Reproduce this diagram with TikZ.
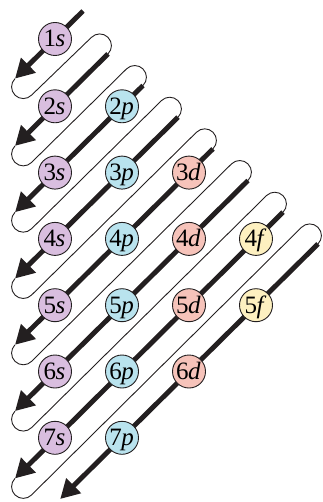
\documentclass[tikz,border=0pt]{standalone}
\usepackage{fontspec}
\setmainfont{Liberation Serif}
\usetikzlibrary{arrows.meta,calc}
\definecolor{scol}{HTML}{D9BEDF}
\definecolor{pcol}{HTML}{B9E3EE}
\definecolor{dcol}{HTML}{F6C3BA}
\definecolor{fcol}{HTML}{FDF0C0}
\definecolor{ink}{HTML}{231F20}
\newcommand{\orbtxt}[2]{\raisebox{-8pt}[0pt][0pt]{\makebox[0pt]{\fontsize{25pt}{25pt}\selectfont #1\kern-0.5pt\textit{#2}\kern1pt}}}
\begin{document}
\begin{tikzpicture}[x=1pt,y=-1pt,
  orb/.style={circle,draw=ink,line width=0.9pt,minimum size=33pt,inner sep=0pt},
  sorb/.style={orb,fill=scol},
  porb/.style={orb,fill=pcol},
  dorb/.style={orb,fill=dcol},
  forb/.style={orb,fill=fcol},
  thickarrow/.style={line width=4.9pt,draw=ink,-{Triangle[length=19pt,width=20pt]}},
  snake/.style={line width=0.9pt,draw=ink}]
\useasboundingbox (0,0) rectangle (323,502);
\clip (0,0) rectangle (323,502);
% tops and tips of the diagonals
\coordinate (T1) at (83,11);
\coordinate (T2) at (108,53.9);
\coordinate (T3) at (143,85.5);
\coordinate (T4) at (178,117.2);
\coordinate (T5) at (213,148.8);
\coordinate (T6) at (248,180.5);
\coordinate (T7) at (283,212.2);
\coordinate (T8) at (318,243.9);
\coordinate (B1) at (15,78.6);
\coordinate (B2) at (15,145.9);
\coordinate (B3) at (15,212.2);
\coordinate (B4) at (15,278.5);
\coordinate (B5) at (15,344.8);
\coordinate (B6) at (15,411.1);
\coordinate (B7) at (15,478.4);
\coordinate (B8) at (60.2,499);
% thin snake
\foreach \k/\n in {1/2,2/3,3/4,4/5,5/6,6/7,7/8}{
  \draw[snake] (B\k) .. controls ($(B\k)+(-4.57,4.57)$) and ($(B\k)+(-4.57,11.98)$) .. ($(B\k)+(0,16.55)$)
     .. controls ($(B\k)+(4.57,21.12)$) and ($(B\k)+(11.98,21.12)$) .. ($(B\k)+(16.55,16.55)$)
     -- ($(T\n)+(-16.55,-16.55)$)
     .. controls ($(T\n)+(-11.98,-21.12)$) and ($(T\n)+(-4.57,-21.12)$) .. ($(T\n)+(0,-16.55)$)
     .. controls ($(T\n)+(4.57,-11.98)$) and ($(T\n)+(4.57,-4.57)$) .. (T\n);
}
% thick arrows
\foreach \k in {1,...,8}{
  \draw[thickarrow] (T\k) -- (B\k);
}
% orbitals
\node[sorb] (s1) at (55,39) {\orbtxt{1}{s}};
\node[sorb] (s2) at (55,106.3) {\orbtxt{2}{s}};
\node[sorb] (s3) at (55,172.6) {\orbtxt{3}{s}};
\node[sorb] (s4) at (55,238.9) {\orbtxt{4}{s}};
\node[sorb] (s5) at (55,305.2) {\orbtxt{5}{s}};
\node[sorb] (s6) at (55,371.5) {\orbtxt{6}{s}};
\node[sorb] (s7) at (55,437.8) {\orbtxt{7}{s}};
\node[porb] (p2) at (122,106.3) {\orbtxt{2}{p}};
\node[porb] (p3) at (122,172.6) {\orbtxt{3}{p}};
\node[porb] (p4) at (122,238.9) {\orbtxt{4}{p}};
\node[porb] (p5) at (122,305.2) {\orbtxt{5}{p}};
\node[porb] (p6) at (122,371.5) {\orbtxt{6}{p}};
\node[porb] (p7) at (122,437.8) {\orbtxt{7}{p}};
\node[dorb] (d3) at (189,172.6) {\orbtxt{3}{d}};
\node[dorb] (d4) at (189,238.9) {\orbtxt{4}{d}};
\node[dorb] (d5) at (189,305.2) {\orbtxt{5}{d}};
\node[dorb] (d6) at (189,371.5) {\orbtxt{6}{d}};
\node[forb] (f4) at (256,238.9) {\orbtxt{4}{f}};
\node[forb] (f5) at (256,305.2) {\orbtxt{5}{f}};
\end{tikzpicture}
\end{document}
